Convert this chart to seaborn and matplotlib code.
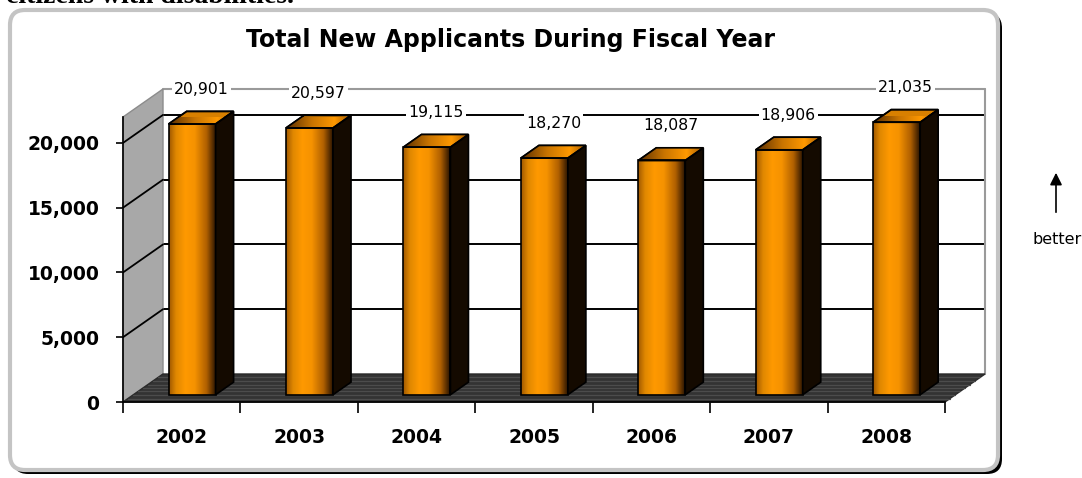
import numpy as np
import matplotlib
matplotlib.use("Agg")
import matplotlib.pyplot as plt
from matplotlib import transforms as mtransforms
from matplotlib.patches import Polygon, FancyBboxPatch
from matplotlib.lines import Line2D
from matplotlib.colors import LinearSegmentedColormap
import seaborn as sns

# ---- data ----
years = ["2002", "2003", "2004", "2005", "2006", "2007", "2008"]
applicants = [20901, 20597, 19115, 18270, 18087, 18906, 21035]
y_ticks = [0, 5000, 10000, 15000, 20000]
y_top = 22000
title = "Total New Applicants During Fiscal Year"
caption = "citizens with disabilities."
note = "better"

sns.set_style("white")
plt.rcParams["font.family"] = ["DejaVu Sans"]
plt.rcParams["text.color"] = "black"

W, H, DPI = 1082, 478, 100
fig = plt.figure(figsize=(W / DPI, H / DPI), dpi=DPI, facecolor="white")
ident = mtransforms.IdentityTransform()

# rounded frame with a drop shadow (pixel coordinates)
shadow = FancyBboxPatch((13, 4), 989, 461, boxstyle="round,pad=0,rounding_size=15",
                        fc="black", ec="none", transform=ident, zorder=-3)
frame = FancyBboxPatch((10, 8), 988, 460, boxstyle="round,pad=0,rounding_size=15",
                       fc="white", ec="#c4c4c4", lw=3, transform=ident, zorder=-2)
fig.add_artist(shadow)
fig.add_artist(frame)

# front plane of the 3-D box
ax = fig.add_axes([123 / W, (H - 402) / H, 822 / W, 285 / H])
ax.patch.set_visible(False)

sns.barplot(x=years, y=applicants, color="#ff9900", saturation=1, width=0.4,
            edgecolor="black", linewidth=1.2, ax=ax)
bars = list(ax.patches)
ax.set_xlim(-0.5, len(years) - 0.5)
ax.set_ylim(0, y_top)
ax.set_autoscale_on(False)
ax.set_xlabel("")
ax.set_ylabel("")

# depth vector of the box (inches) and bar slab position along it
DX_IN, DY_IN = 0.40, 0.28
F0, F1 = 0.26, 0.71


def shift(f):
    return mtransforms.ScaledTranslation(f * DX_IN, f * DY_IN, fig.dpi_scale_trans)


def disp(x, y, f):
    px, py = ax.transData.transform((x, y))
    return (px + f * DX_IN * DPI, py + f * DY_IN * DPI)


def poly(pts, **kw):
    p = Polygon(np.array(pts), closed=True, transform=ident, clip_on=False, **kw)
    ax.add_artist(p)
    return p


def seg(p, q, **kw):
    ax.add_artist(Line2D([p[0], q[0]], [p[1], q[1]], transform=ident, clip_on=False, **kw))


x_lo, x_hi = -0.5, len(years) - 0.5

# back wall
poly([disp(x_lo, 0, 1), disp(x_hi, 0, 1), disp(x_hi, y_top, 1), disp(x_lo, y_top, 1)],
     fc="white", ec="none", zorder=0.5)
for v in y_ticks[1:]:
    seg(disp(x_lo, v, 1), disp(x_hi, v, 1), color="black", lw=1.4, zorder=0.6)
seg(disp(x_lo, y_top, 1), disp(x_hi, y_top, 1), color="#9a9a9a", lw=1.5, zorder=0.6)
seg(disp(x_hi, y_top, 1), disp(x_hi, 0, 1), color="#9a9a9a", lw=1.5, zorder=0.6)

# side wall
poly([disp(x_lo, 0, 0), disp(x_lo, y_top, 0), disp(x_lo, y_top, 1), disp(x_lo, 0, 1)],
     fc="#a8a8a8", ec="#8c8c8c", lw=1, zorder=0.7)
for v in y_ticks[1:]:
    seg(disp(x_lo, v, 0), disp(x_lo, v, 1), color="black", lw=1.3, zorder=0.8)

# floor with fine streaks
poly([disp(x_lo, 0, 0), disp(x_hi, 0, 0), disp(x_hi, 0, 1), disp(x_lo, 0, 1)],
     fc="#333333", ec="#2a2a2a", lw=1, zorder=0.9)
for f in (0.12, 0.24, 0.38, 0.5, 0.62, 0.76, 0.88):
    seg(disp(x_lo, 0, f), disp(x_hi, 0, f), color="#4c4c4c", lw=0.9, zorder=0.95)

# bars: shaded front faces, dark side faces, orange tops
front_cmap = LinearSegmentedColormap.from_list(
    "front", [(0, "#a05800"), (0.15, "#e08800"), (0.35, "#ff9900"), (0.55, "#f59200"),
              (0.8, "#b06000"), (1, "#2a1400")])
top_cmap = LinearSegmentedColormap.from_list(
    "top", [(0, "#5a2e00"), (0.4, "#c87400"), (0.75, "#ff9900"), (1, "#a05800")])
grad = np.linspace(0, 1, 256).reshape(1, -1)

for patch in bars:
    x0, w, h = patch.get_x(), patch.get_width(), patch.get_height()
    tr = ax.transData + shift(F0)
    patch.set_transform(tr)
    patch.set_clip_on(False)
    im = ax.imshow(grad, cmap=front_cmap, extent=(x0, x0 + w, 0, h), aspect="auto",
                   transform=tr, zorder=2, interpolation="bilinear")
    im.set_clip_box(None)
    im.set_clip_path(patch)
    patch.set_facecolor("none")
    patch.set_zorder(3)

    x1 = x0 + w
    poly([disp(x1, 0, F0), disp(x1, h, F0), disp(x1, h, F1), disp(x1, 0, F1)],
         fc="#140a00", ec="black", lw=1.2, zorder=3)
    top_pts = [disp(x0, h, F0), disp(x1, h, F0), disp(x1, h, F1), disp(x0, h, F1)]
    top = poly(top_pts, fc="#d88000", ec="black", lw=1.2, zorder=2.8)
    xs = [p[0] for p in top_pts]
    ys = [p[1] for p in top_pts]
    tim = ax.imshow(grad, cmap=top_cmap, extent=(min(xs), max(xs), min(ys), max(ys)),
                    aspect="auto", transform=ident, zorder=2.9, interpolation="bilinear")
    tim.set_clip_box(None)
    tim.set_clip_path(top)
    poly(top_pts, fc="none", ec="black", lw=1.2, zorder=3.1)

ax.set_xlim(x_lo, x_hi)
ax.set_ylim(0, y_top)

# value labels above each bar
for i, v in enumerate(applicants):
    cx = disp(i, v, (F0 + F1) / 2)[0]
    cy = disp(i, v, F1)[1] + 22
    ax.text(cx, cy, f"{v:,}", transform=ident, ha="center", va="center", fontsize=11.3,
            color="black", zorder=5, clip_on=False,
            bbox=dict(fc="white", ec="none", pad=1.5))

# axes styling
for s in ("top", "right"):
    ax.spines[s].set_visible(False)
for s in ("left", "bottom"):
    ax.spines[s].set_color("black")
    ax.spines[s].set_linewidth(1.2)
    ax.spines[s].set_zorder(4)

ax.set_yticks(y_ticks, labels=[f"{v:,}" for v in y_ticks])
ax.tick_params(axis="y", direction="out", length=5, width=1.2, pad=12, labelsize=13.5,
               color="black", labelcolor="black", left=True)
for t in ax.get_yticklabels():
    t.set_fontweight("bold")

ax.set_xticks(np.arange(x_lo, x_hi + 0.01, 1.0), labels=[])
ax.set_xticks(range(len(years)), labels=years, minor=True)
ax.tick_params(axis="x", which="major", direction="out", length=8, width=1.2,
               color="black", bottom=True)
ax.tick_params(axis="x", which="minor", length=0, pad=19, labelsize=13.5, labelcolor="black")
for t in ax.get_xticklabels(minor=True):
    t.set_fontweight("bold")

# titles and side note
fig.text(511 / W, 1 - 40 / H, title, ha="center", va="center", fontsize=17,
         fontweight="bold", color="black")
fig.text(6 / W, 1 - 3 / H, caption, ha="left", va="baseline", fontsize=20,
         family="Liberation Serif", fontweight="bold", color="black")
ax.annotate("", xy=(1056, 308), xytext=(1056, 263), xycoords="figure pixels",
            textcoords="figure pixels",
            arrowprops=dict(arrowstyle="-|>", color="black", lw=1.2, mutation_scale=18))
fig.text(1057 / W, 1 - 240 / H, note, ha="center", va="center", fontsize=11.5, color="black")

fig.savefig("out.png", dpi=DPI, facecolor="white")
